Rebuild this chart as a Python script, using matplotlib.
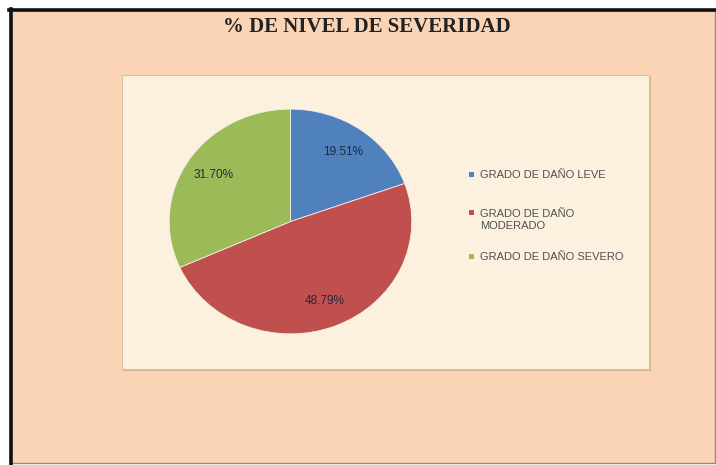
import matplotlib
matplotlib.use("Agg")
import matplotlib.pyplot as plt
from matplotlib.patches import Rectangle

# severity shares (percent)
categories = ["GRADO DE DAÑO LEVE", "GRADO DE DAÑO\nMODERADO", "GRADO DE DAÑO SEVERO"]
shares = [19.51, 48.79, 31.70]
colors = ["#4F81BD", "#C0504D", "#9BBB59"]
title = "% DE NIVEL DE SEVERIDAD"

W, H = 716, 465
fig = plt.figure(figsize=(W / 100, H / 100), dpi=100)
fig.patch.set_facecolor("white")


def px_box(x0, y0, x1, y1):
    # pixel box (top-left origin) -> figure fraction rectangle
    return (x0 / W, 1 - y1 / H, (x1 - x0) / W, (y1 - y0) / H)


# outer peach chart area with dark top/left frame
bx, by, bw, bh = px_box(10, 10, 715, 463)
fig.patches.append(Rectangle((bx, by), bw, bh, transform=fig.transFigure,
                             facecolor="#FBD4B6", edgecolor="#8a8a8a", lw=1.0, zorder=0))
fig.add_artist(plt.Line2D([9 / W, 716 / W], [1 - 10.5 / H, 1 - 10.5 / H],
                          transform=fig.transFigure, color="#111111", lw=2.6))
fig.add_artist(plt.Line2D([10.5 / W, 10.5 / W], [1 - 9 / H, 1 - 464 / H],
                          transform=fig.transFigure, color="#111111", lw=2.6))

# cream plot area
px, py, pw, ph = px_box(122, 75, 649, 369)
fig.patches.append(Rectangle((px + 1.5 / W, py - 1.5 / H), pw, ph, transform=fig.transFigure,
                             facecolor="#d9b48f", edgecolor="none", zorder=1))
fig.patches.append(Rectangle((px, py), pw, ph, transform=fig.transFigure,
                             facecolor="#FBF1DE", edgecolor="#d8c3a5", lw=0.8, zorder=2))

fig.text(367 / W, 1 - 27 / H, title, ha="center", va="center",
         fontsize=15, fontweight="bold", family="Liberation Serif", color="#222222")

# pie, slightly wider than tall
ax = fig.add_axes(px_box(168, 108, 413, 335), zorder=5)
ax.patch.set_visible(False)
wedges, texts, autotexts = ax.pie(
    shares, colors=colors, startangle=90, counterclock=False,
    autopct="%.2f%%", pctdistance=0.76,
    wedgeprops=dict(edgecolor="#f4efe4", linewidth=0.6),
    textprops=dict(fontsize=8.5, color="#1f2a40", family="Liberation Sans"),
)
ax.set_aspect("auto")
ax.set_xlim(-1.01, 1.01)
ax.set_ylim(-1.01, 1.01)
ax.axis("off")

# legend: marker sits on the first text line of each entry
leg_y = [174, 213, 256]
for name, col, y in zip(categories, colors, leg_y):
    fig.patches.append(Rectangle(((469) / W, 1 - (y + 2.5) / H), 5 / W, 5 / H,
                                 transform=fig.transFigure, facecolor=col,
                                 edgecolor="none", zorder=6))
    fig.text(480 / W, 1 - (y - 4) / H, name, ha="left", va="top",
             fontsize=8, family="Liberation Sans", color="#505050",
             linespacing=1.25, zorder=6)

fig.savefig("out.png", dpi=100)
